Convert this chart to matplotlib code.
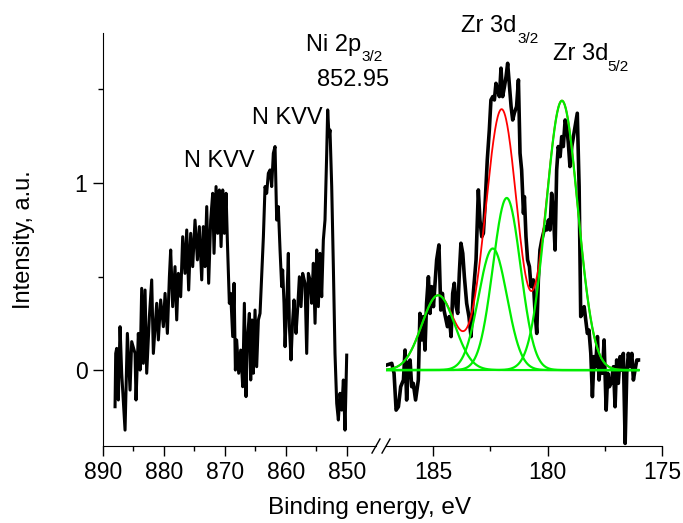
import numpy as np
import matplotlib
matplotlib.use('Agg')
from matplotlib import pyplot as plt

plt.rcParams['font.family'] = ['Liberation Sans', 'DejaVu Sans']

# Ni 2p / N KVV region (binding energy, eV -> intensity, a.u.)
ni_energy = [887.98, 887.87, 887.71, 887.44, 887.16, 886.89, 886.34, 885.96, 885.52, 885.25,
             884.70, 884.54, 884.16, 883.88, 883.61, 883.34, 883.06, 882.79, 882.35, 881.97,
             881.70, 881.15, 880.88, 880.50, 880.06, 879.78, 879.40, 879.07, 878.86, 878.53,
             878.15, 877.87, 877.60, 877.22, 876.89, 876.51, 876.23, 875.91, 875.58, 875.25,
             874.87, 874.48, 874.16, 873.77, 873.50, 873.23, 872.95, 872.63, 872.30, 871.97,
             871.75, 871.42, 871.15, 870.88, 870.60, 870.33, 870.06, 869.78, 869.57, 869.24,
             869.02, 868.69, 868.47, 868.25, 868.04, 867.71, 867.38, 867.05, 866.78, 866.51,
             866.29, 865.96, 865.74, 865.52, 865.30, 865.03, 864.76, 864.48, 864.21, 863.94,
             863.66, 863.39, 863.12, 862.85, 862.57, 862.30, 862.03, 861.75, 861.48, 861.21,
             860.93, 860.66, 860.50, 860.28, 860.11, 859.84, 859.57, 859.40, 859.13, 858.86,
             858.64, 858.31, 858.09, 857.76, 857.49, 857.22, 856.83, 856.56, 856.29, 856.01,
             855.74, 855.47, 855.19, 854.92, 854.65, 854.38, 854.10, 853.83, 853.56, 853.28,
             853.12, 852.90, 852.74, 852.46, 852.19, 851.92, 851.64, 851.37, 851.10, 850.82,
             850.55, 850.28, 850.00]
ni_intensity = [-0.196, 0.089, 0.116, -0.160, 0.232, -0.017, -0.321, 0.196, -0.107, 0.152,
                0.089, -0.160, 0.196, 0.000, 0.437, 0.036, 0.428, -0.017, 0.286, 0.482,
                0.089, 0.357, 0.161, 0.375, 0.232, 0.410, 0.196, 0.499, 0.642, 0.339,
                0.553, 0.268, 0.517, 0.392, 0.713, 0.517, 0.749, 0.428, 0.731, 0.553,
                0.802, 0.589, 0.767, 0.482, 0.767, 0.553, 0.874, 0.464, 0.802, 0.945,
                0.624, 0.981, 0.731, 0.963, 0.660, 0.963, 0.731, 0.945, 0.696, 0.357,
                0.410, 0.179, 0.464, 0.000, 0.161, -0.017, 0.107, -0.089, 0.357, -0.142,
                0.161, 0.303, -0.053, 0.268, -0.017, 0.321, 0.018, 0.268, 0.303, 0.499,
                0.713, 0.981, 0.945, 1.052, 1.070, 0.981, 1.159, 1.195, 0.802, 0.874,
                0.642, 0.446, 0.535, 0.357, 0.125, 0.339, 0.624, 0.232, 0.054, 0.268,
                0.375, 0.196, 0.303, 0.499, 0.339, 0.517, 0.464, 0.089, 0.517, 0.482,
                0.357, 0.571, 0.250, 0.642, 0.339, 0.624, 0.392, 0.696, 0.802, 1.159,
                1.391, 1.248, 1.284, 0.981, 0.553, 0.089, -0.178, -0.267, -0.124, -0.214,
                -0.053, -0.321, 0.080]

# Zr 3d region
zr_energy = [187.02, 186.80, 186.70, 186.61, 186.51, 186.41, 186.29, 186.22, 186.15, 186.08,
             186.00, 185.93, 185.86, 185.76, 185.64, 185.57, 185.49, 185.42, 185.35, 185.28,
             185.20, 185.13, 185.06, 184.98, 184.91, 184.84, 184.74, 184.66, 184.59, 184.52,
             184.43, 184.37, 184.29, 184.21, 184.14, 184.07, 183.99, 183.92, 183.85, 183.78,
             183.70, 183.63, 183.53, 183.43, 183.34, 183.24, 183.12, 183.02, 182.95, 182.87,
             182.80, 182.73, 182.63, 182.54, 182.47, 182.39, 182.32, 182.25, 182.18, 182.10,
             182.03, 181.96, 181.88, 181.81, 181.74, 181.67, 181.59, 181.52, 181.45, 181.35,
             181.27, 181.20, 181.13, 181.05, 181.01, 180.94, 180.87, 180.79, 180.72, 180.62,
             180.55, 180.47, 180.40, 180.33, 180.25, 180.18, 180.11, 180.04, 179.96, 179.89,
             179.82, 179.74, 179.67, 179.60, 179.53, 179.45, 179.38, 179.31, 179.23, 179.16,
             179.09, 179.02, 178.94, 178.87, 178.80, 178.70, 178.62, 178.55, 178.48, 178.40,
             178.33, 178.26, 178.19, 178.11, 178.04, 177.97, 177.90, 177.82, 177.75, 177.68,
             177.60, 177.53, 177.44, 177.37, 177.30, 177.23, 177.12, 177.05, 176.98, 176.91,
             176.83, 176.76, 176.69, 176.61, 176.54, 176.47, 176.40, 176.32, 176.25, 176.18,
             176.10, 176.03]
zr_intensity = [0.027, 0.036, -0.017, -0.214, -0.196, -0.089, -0.053, 0.107, -0.160, 0.036,
                0.054, -0.089, -0.071, -0.160, -0.053, 0.303, 0.161, 0.286, 0.107, 0.357,
                0.499, 0.303, 0.446, 0.339, 0.464, 0.589, 0.669, 0.321, 0.410, 0.321,
                0.268, 0.232, 0.286, 0.179, 0.410, 0.464, 0.339, 0.303, 0.517, 0.678,
                0.624, 0.499, 0.357, 0.286, 0.179, 0.410, 0.589, 0.963, 0.802, 0.713,
                0.731, 0.874, 1.123, 1.284, 1.444, 1.462, 1.444, 1.533, 1.498, 1.462,
                1.614, 1.462, 1.515, 1.569, 1.640, 1.533, 1.409, 1.337, 1.373, 1.409,
                1.551, 1.159, 1.070, 0.838, 0.927, 0.713, 0.589, 0.553, 0.446, 0.482,
                0.321, 0.196, 0.482, 0.642, 0.696, 0.731, 0.767, 0.749, 0.802, 0.749,
                0.945, 0.838, 0.642, 1.070, 1.195, 1.141, 1.248, 1.195, 1.337, 1.302,
                1.212, 1.088, 1.195, 1.248, 1.302, 1.373, 0.981, 0.286, 0.303, 0.339,
                0.268, 0.196, 0.214, 0.089, -0.142, 0.072, 0.018, 0.179, -0.053, 0.054,
                -0.017, 0.161, -0.214, -0.017, -0.089, -0.071, 0.018, -0.196, 0.054, -0.071,
                0.072, 0.000, 0.089, -0.392, -0.017, 0.089, 0.018, 0.089, -0.053, 0.000,
                0.054, 0.054]

# gaussian components of the Zr 3d fit
fit_centers = [184.77, 182.39, 181.78, 179.37]
fit_heights = [0.40, 0.65, 0.92, 1.44]
fit_sigmas = [0.72, 0.62, 0.60, 0.69]
fit_lo, fit_hi = 176.03, 187.02

fig = plt.figure(figsize=(6.83, 5.23), dpi=100)
ax1 = fig.add_axes([0.1504, 0.1472, 0.4001, 0.7897])
ax2 = fig.add_axes([0.5652, 0.1472, 0.4041, 0.7897])

ax1.plot(ni_energy, ni_intensity, color='black', lw=2.2)

e = np.linspace(fit_hi, fit_lo, 600)
comps = [h * np.exp(-(e - c) ** 2 / (2 * s ** 2))
         for c, h, s in zip(fit_centers, fit_heights, fit_sigmas)]
ax2.plot(zr_energy, zr_intensity, color='black', lw=2.6, zorder=1)
ax2.plot(e, np.sum(comps, axis=0), color='#ff0000', lw=1.3, zorder=2)
for comp in comps:
    ax2.plot(e, comp, color='#00ee00', lw=1.6, zorder=3)

for ax in (ax1, ax2):
    ax.set_ylim(-0.406, 1.802)
    ax.spines['top'].set_visible(False)
    ax.spines['right'].set_visible(False)
    ax.tick_params(direction='out', which='major', length=7, width=1, labelsize=16.5, pad=4)
    ax.tick_params(direction='out', which='minor', length=3.5, width=1)
    ax.patch.set_alpha(0)

ax1.set_xlim(890, 845.2)
ax1.set_xticks([890, 880, 870, 860, 850])
ax1.set_xticks([885, 875, 865, 855], minor=True)
ax1.set_yticks([0, 1])
ax1.set_yticklabels(['0', '1'])
ax1.set_yticks([0.5, 1.5], minor=True)
ax1.set_ylabel('Intensity, a.u.', fontsize=17)
ax1.yaxis.set_label_coords(-0.248, 0.5)

ax2.set_xlim(187.05, 175)
ax2.set_xticks([185, 180, 175])
ax2.set_xticks([182.5, 177.5], minor=True)
ax2.spines['left'].set_visible(False)
ax2.set_yticks([])

# axis break marks
for ax, xb, dx in ((ax1, 1, 0.0146), (ax2, 0, 0.0145)):
    ax.plot([xb - dx, xb + dx], [-0.017, 0.017], transform=ax.transAxes,
            color='black', lw=1, clip_on=False)

fig.text(369 / 683, 15 / 523, 'Binding energy, eV', fontsize=17.5, ha='center', va='center')

# peak labels, subscripts as small separate texts
ax1.text(856.6, 1.74, 'Ni 2p', fontsize=17, va='center')
ax1.text(847.6, 1.675, '3/2', fontsize=11, va='center', clip_on=False)
ax1.text(854.9, 1.55, '852.95', fontsize=17, va='center')
ax1.text(865.6, 1.35, 'N KVV', fontsize=17, va='center')
ax1.text(876.7, 1.12, 'N KVV', fontsize=17, va='center')
ax2.text(183.78, 1.84, 'Zr 3d', fontsize=17, va='center')
ax2.text(181.33, 1.77, '3/2', fontsize=11, va='center')
ax2.text(179.76, 1.69, 'Zr 3d', fontsize=17, va='center')
ax2.text(177.38, 1.62, '5/2', fontsize=11, va='center')

fig.savefig('out.png', dpi=100)
